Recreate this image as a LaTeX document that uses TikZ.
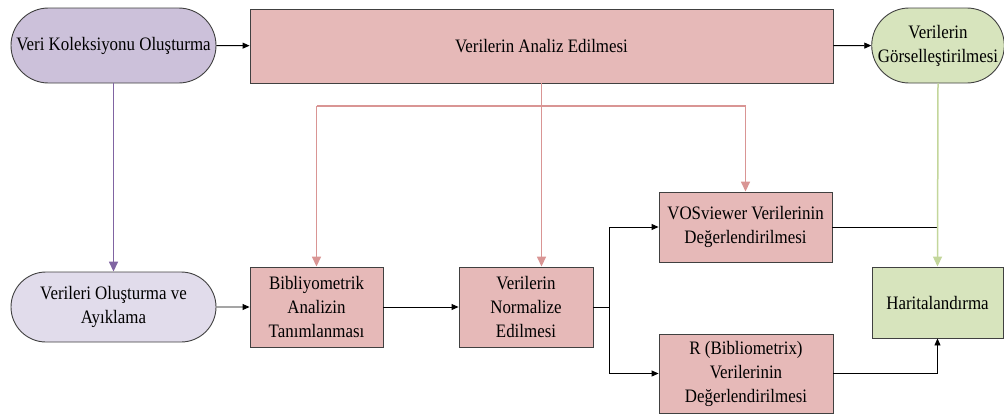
\documentclass[tikz,border=0pt]{standalone}
\usepackage{fontspec}
\setmainfont{Liberation Serif}[FakeStretch=0.89]
\usetikzlibrary{arrows.meta,shapes.misc}
\definecolor{lavA}{HTML}{CCC1DA}
\definecolor{lavD}{HTML}{E1DCEB}
\definecolor{rosebox}{HTML}{E6B9B8}
\definecolor{greenbox}{HTML}{D7E4BD}
\definecolor{edgegray}{HTML}{404040}
\definecolor{redline}{HTML}{D99594}
\definecolor{purpline}{HTML}{8064A2}
\definecolor{greenline}{HTML}{C3D69B}
\tikzset{
  box/.style={draw=edgegray, line width=0.9pt, align=center, inner sep=2pt,
    font=\fontsize{19}{24}\selectfont},
  pill/.style={box, rounded rectangle, rounded rectangle arc length=180},
  blk/.style={draw=black, line width=0.9pt, -{Triangle[length=7pt,width=6pt]}},
  blkline/.style={draw=black, line width=0.9pt},
  redc/.style={draw=redline, line width=1.5pt},
  reda/.style={redc, -{Triangle[length=10pt,width=9pt]}},
  purpa/.style={draw=purpline, line width=1.5pt, -{Triangle[length=10pt,width=9pt]}},
  greenc/.style={draw=greenline, line width=1.5pt},
  greena/.style={greenc, -{Triangle[length=10pt,width=9pt]}},
}
\begin{document}
\begin{tikzpicture}[x=1pt,y=-1pt]
\useasboundingbox (0,0) rectangle (1004,415);
% top row
\node[pill, fill=lavA, minimum width=209pt, minimum height=75pt] (A) at (113.5,45.5) {Veri Koleksiyonu Oluşturma};
\node[box, fill=rosebox, minimum width=583pt, minimum height=74pt] (B) at (541.5,46) {Verilerin Analiz Edilmesi};
\node[pill, fill=greenbox, minimum width=130pt, minimum height=75pt, inner sep=0pt] (C) at (938,45.5) {Verilerin\\Görselleştirilmesi};
% bottom row
\node[pill, fill=lavD, minimum width=209pt, minimum height=70pt] (D) at (113.5,307) {Verileri Oluşturma ve\\Ayıklama};
\node[box, fill=rosebox, minimum width=133pt, minimum height=80pt] (E) at (316.5,307) {Bibliyometrik\\Analizin\\Tanımlanması};
\node[box, fill=rosebox, minimum width=134pt, minimum height=80pt] (F) at (526,307) {Verilerin\\Normalize\\Edilmesi};
\node[box, fill=rosebox, minimum width=173pt, minimum height=70pt] (G) at (745.5,227) {VOSviewer Verilerinin\\Değerlendirilmesi};
\node[box, fill=rosebox, minimum width=174pt, minimum height=79pt] (H) at (746,373.5) {R (Bibliometrix)\\Verilerinin\\Değerlendirilmesi};
\node[box, fill=greenbox, minimum width=131pt, minimum height=71pt] (I) at (937.5,302.5) {Haritalandırma};
% helper coordinates
\coordinate (rl) at (316.5,106);
\coordinate (rr) at (745.5,106);
\coordinate (sp) at (609,307);
% black connectors
\draw[blk] (A) -- (B);
\draw[blk] (B) -- (C);
\draw[blk] (D) -- (E);
\draw[blk] (E) -- (F);
\draw[blkline] (F.east) -- (sp);
\draw[blk] (sp) |- (G.west);
\draw[blk] (sp) |- (H.west);
\draw[blkline] (G.east) -- (G.east -| I.north);
\draw[blk] (H.east) -| (I.south);
% purple
\draw[purpa] (A.south) -- (D.north);
% red
\draw[reda] (B.south) -- (F.north -| B.south);
\draw[redc] (rl) -- (rr);
\draw[reda] (rl) -- (E.north);
\draw[reda] (rr) -- (G.north);
% green
\draw[greena] (C.south) -- (I.north);
\end{tikzpicture}
\end{document}
